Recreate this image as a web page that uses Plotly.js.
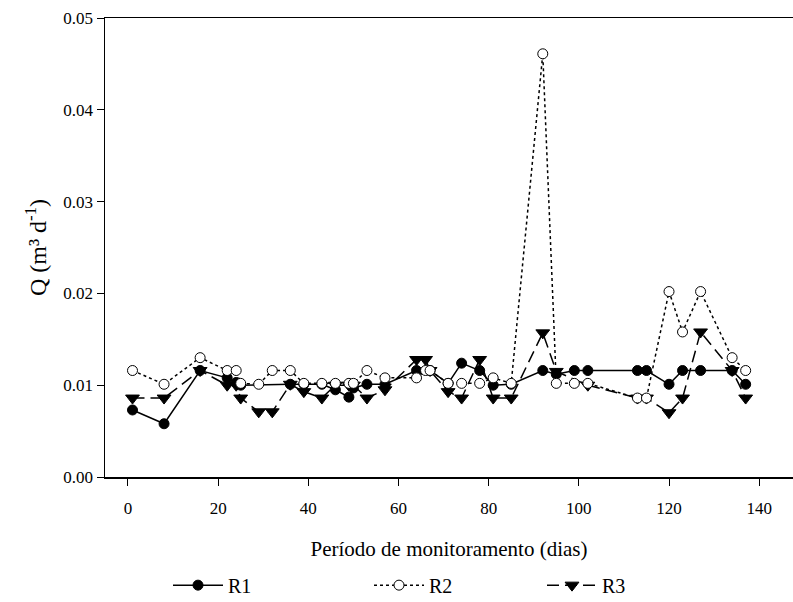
<!DOCTYPE html>
<html>
<head>
<meta charset="utf-8">
<script src="https://cdn.plot.ly/plotly-3.0.1.min.js"></script>
<style>
html,body{margin:0;padding:0;background:#fff;}
#chart{width:793px;height:602px;}
</style>
</head>
<body>
<div id="chart"></div>
<script>
// Days and discharge (m3/d)
const r1Days = [1, 8, 16, 22, 24, 25, 36, 39, 43, 46, 49, 50, 53, 57, 64, 67, 71, 74, 78, 81, 85, 92, 95, 99, 102, 113, 115, 120, 123, 127, 134, 137];
const r1Q = [0.0073, 0.0058, 0.0116, 0.0108, 0.0103, 0.0100, 0.0101, 0.0101, 0.0101, 0.0095, 0.0087, 0.0097, 0.0101, 0.0101, 0.0116, 0.0116, 0.0102, 0.0124, 0.0116, 0.0100, 0.0101, 0.0116, 0.0112, 0.0116, 0.0116, 0.0116, 0.0116, 0.0101, 0.0116, 0.0116, 0.0116, 0.0101];

const r2Days = [1, 8, 16, 22, 24, 25, 29, 32, 36, 39, 43, 46, 49, 50, 53, 57, 64, 66, 67, 71, 74, 78, 81, 85, 92, 95, 99, 102, 113, 115, 120, 123, 127, 134, 137];
const r2Q = [0.0116, 0.0101, 0.0130, 0.0116, 0.0116, 0.0102, 0.0101, 0.0116, 0.0116, 0.0102, 0.0102, 0.0102, 0.0102, 0.0102, 0.0116, 0.0108, 0.0108, 0.0116, 0.0116, 0.0102, 0.0102, 0.0102, 0.0108, 0.0102, 0.0461, 0.0102, 0.0102, 0.0102, 0.0086, 0.0086, 0.0202, 0.0158, 0.0202, 0.0130, 0.0116];

const r3Days = [1, 8, 16, 22, 24, 25, 29, 32, 36, 39, 43, 46, 49, 50, 53, 57, 64, 66, 67, 71, 74, 78, 81, 85, 92, 95, 102, 113, 115, 120, 123, 127, 134, 137];
const r3Q = [0.0086, 0.0086, 0.0116, 0.0100, 0.0100, 0.0086, 0.0071, 0.0071, 0.0101, 0.0093, 0.0086, 0.0100, 0.0100, 0.0100, 0.0086, 0.0095, 0.0128, 0.0128, 0.0116, 0.0093, 0.0086, 0.0128, 0.0086, 0.0086, 0.0157, 0.0115, 0.0100, 0.0086, 0.0086, 0.0070, 0.0086, 0.0158, 0.0116, 0.0086];

const seriesNames = ['R1', 'R2', 'R3'];
const xTicks = [0, 20, 40, 60, 80, 100, 120, 140];
const yTicks = [0, 0.01, 0.02, 0.03, 0.04, 0.05];

const fam = '"Liberation Serif", "Times New Roman", serif';

const traces = [
  {
    x: r3Days, y: r3Q, name: seriesNames[2], type: 'scatter', mode: 'lines+markers',
    line: {color: '#000', width: 1.5, dash: '12px,6px'},
    marker: {symbol: 'triangle-down', size: 12, color: '#000', line: {color: '#000', width: 1}},
    legend: 'legend3'
  },
  {
    x: r1Days, y: r1Q, name: seriesNames[0], type: 'scatter', mode: 'lines+markers',
    line: {color: '#000', width: 1.5},
    marker: {symbol: 'circle', size: 10, color: '#000', line: {color: '#000', width: 1}},
    legend: 'legend'
  },
  {
    x: r2Days, y: r2Q, name: seriesNames[1], type: 'scatter', mode: 'lines+markers',
    line: {color: '#000', width: 1.5, dash: 'dot'},
    marker: {symbol: 'circle', size: 10, color: '#fff', line: {color: '#000', width: 1}},
    legend: 'legend2'
  }
];

function legendAt(x) {
  return {
    orientation: 'h', xref: 'container', yref: 'container',
    x: x, y: 0.028, xanchor: 'left', yanchor: 'middle',
    font: {family: fam, size: 20, color: '#000'},
    itemwidth: 50, bgcolor: 'rgba(0,0,0,0)'
  };
}

const layout = {
  width: 793, height: 602,
  paper_bgcolor: '#fff', plot_bgcolor: '#fff',
  margin: {l: 105, r: 0, t: 18, b: 125},
  font: {family: fam, size: 17, color: '#000'},
  showlegend: true,
  legend: legendAt(168 / 793),
  legend2: legendAt(369 / 793),
  legend3: legendAt(542 / 793),
  xaxis: {
    range: [-5.1, 147.5], tickvals: xTicks, ticktext: xTicks.map(String),
    showgrid: false, zeroline: false,
    showline: true, linecolor: '#000', linewidth: 1.5, mirror: true,
    ticks: 'outside', ticklen: 7, tickwidth: 1, tickcolor: '#000',
    tickfont: {family: fam, size: 17}, ticklabelstandoff: 8,
    title: {text: 'Período de monitoramento (dias)', font: {family: fam, size: 21}, standoff: 24}
  },
  yaxis: {
    range: [0, 0.05], tickvals: yTicks, tickformat: '.2f',
    showgrid: false, zeroline: false,
    showline: true, linecolor: '#000', linewidth: 1.5,
    ticks: 'outside', ticklen: 7, tickwidth: 1, tickcolor: '#000',
    tickfont: {family: fam, size: 17},
    title: {text: 'Q (m³ d<sup>-1</sup>)', font: {family: fam, size: 24}, standoff: 10}
  }
};

Plotly.newPlot('chart', traces, layout, {displayModeBar: false, staticPlot: true});
</script>
</body>
</html>
